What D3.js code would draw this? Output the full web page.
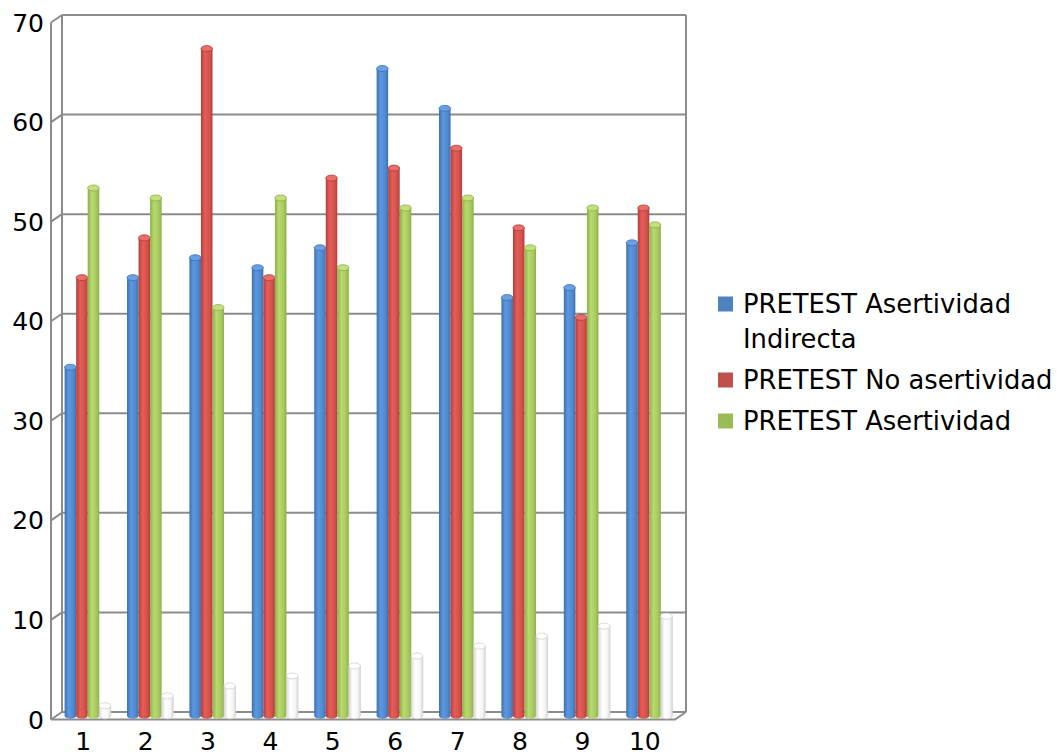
<!DOCTYPE html>
<html>
<head>
<meta charset="utf-8">
<script src="https://cdn.jsdelivr.net/npm/d3@7"></script>
<style>
  body { margin: 0; background: #fff; }
  svg text { font-family: "DejaVu Sans", sans-serif; fill: #000; }
</style>
</head>
<body>
<div id="chart"></div>
<script>
// Categories and values
var categorias = ["1", "2", "3", "4", "5", "6", "7", "8", "9", "10"];
var asertividadIndirecta = [35, 44, 46, 45, 47, 65, 61, 42, 43, 47.5];
var noAsertividad = [44, 48, 67, 44, 54, 55, 57, 49, 40, 51];
var asertividad = [53, 52, 41, 52, 45, 51, 52, 47, 51, 49.3];
var serieBlanca = [1, 2, 3, 4, 5, 6, 7, 8, 9, 10];
var nombresSeries = ["PRETEST Asertividad Indirecta", "PRETEST No asertividad", "PRETEST Asertividad", ""];
var ticksY = [0, 10, 20, 30, 40, 50, 60, 70];

function init() {
    var w = 1057, h = 756;

    // back wall and depth offset of the 3D box
    var backLeft = 62, backRight = 686, backTop = 15, backBottom = 712;
    var dx = -11, dy = 7.5;

    var svg = d3.select("#chart").append("svg")
        .attr("width", w)
        .attr("height", h);

    var y = d3.scaleLinear().domain([0, 70]).range([backBottom, backTop]);

    // bars stand in the middle of the depth
    var x = d3.scaleBand()
        .domain(categorias)
        .range([backLeft + dx / 2, backRight + dx / 2])
        .paddingInner(0.26)
        .paddingOuter(0.13);

    var series = [asertividadIndirecta, noAsertividad, asertividad, serieBlanca];
    var xs = d3.scaleBand().domain(d3.range(4)).range([0, x.bandwidth()]);

    var colores = [
        { dark: "#3e70b0", mid: "#5c98e0", light: "#5089d0", top: "#6aa0e2", legend: "#4f81bd" },
        { dark: "#b23e3b", mid: "#e55e59", light: "#d5514c", top: "#e76e69", legend: "#c0504d" },
        { dark: "#8dae49", mid: "#b9da70", light: "#a7ca5e", top: "#c3e07f", legend: "#9bbb59" },
        { dark: "#dadada", mid: "#ffffff", light: "#f6f6f6", top: "#ffffff", legend: "#ffffff" }
    ];

    var defs = svg.append("defs");
    colores.forEach(function (c, i) {
        var g = defs.append("linearGradient")
            .attr("id", "grad" + i)
            .attr("x1", "0%").attr("x2", "100%")
            .attr("y1", "0%").attr("y2", "0%");
        g.append("stop").attr("offset", "0%").attr("stop-color", c.dark);
        g.append("stop").attr("offset", "35%").attr("stop-color", c.mid);
        g.append("stop").attr("offset", "75%").attr("stop-color", c.light);
        g.append("stop").attr("offset", "100%").attr("stop-color", c.dark);
    });

    var gris = "#8c8c8c";
    var ejes = svg.append("g")
        .attr("stroke", gris)
        .attr("stroke-width", 2)
        .attr("fill", "none");

    // gridlines on the back wall + slanted ticks on the left wall
    ticksY.forEach(function (t) {
        ejes.append("line")
            .attr("x1", backLeft).attr("x2", backRight)
            .attr("y1", y(t)).attr("y2", y(t));
        ejes.append("line")
            .attr("x1", backLeft + dx).attr("y1", y(t) + dy)
            .attr("x2", backLeft).attr("y2", y(t));
    });

    // walls
    ejes.append("line").attr("x1", backLeft).attr("x2", backLeft).attr("y1", backTop).attr("y2", backBottom);
    ejes.append("line").attr("x1", backLeft + dx).attr("x2", backLeft + dx).attr("y1", backTop + dy).attr("y2", backBottom + dy);
    ejes.append("line").attr("x1", backRight).attr("x2", backRight).attr("y1", backTop).attr("y2", backBottom);

    // floor
    ejes.append("path")
        .attr("d", "M" + (backLeft + dx) + "," + (backBottom + dy) +
            "L" + (backRight + dx) + "," + (backBottom + dy) +
            "L" + backRight + "," + backBottom);

    // y tick labels
    svg.append("g").selectAll("text")
        .data(ticksY)
        .enter().append("text")
        .attr("x", 44)
        .attr("y", function (d) { return y(d) + dy; })
        .attr("dy", "0.36em")
        .attr("text-anchor", "end")
        .style("font-size", "25px")
        .text(function (d) { return d; });

    // x labels
    svg.append("g").selectAll("text")
        .data(categorias)
        .enter().append("text")
        .attr("x", function (d) { return x(d) + x.bandwidth() / 2 + dx / 2 + 1; })
        .attr("y", 750)
        .attr("text-anchor", "middle")
        .style("font-size", "25px")
        .text(function (d) { return d; });

    // cylinders
    var bw = xs.bandwidth();
    var ry = 3;
    var base = y(0) + dy / 2;
    series.forEach(function (vals, s) {
        var g = svg.append("g");
        var grupos = g.selectAll("g")
            .data(vals)
            .enter().append("g")
            .attr("transform", function (d, i) {
                return "translate(" + (x(categorias[i]) + xs(s)) + ",0)";
            });

        grupos.append("path")
            .attr("d", function (d) {
                var top = y(d) + dy / 2;
                return "M0," + top + "L0," + base +
                    "A" + (bw / 2) + "," + ry + " 0 0 0 " + bw + "," + base +
                    "L" + bw + "," + top + "Z";
            })
            .attr("fill", "url(#grad" + s + ")")
            .attr("stroke", s === 3 ? "#d0d0d0" : "none")
            .attr("stroke-width", 0.8);

        grupos.append("ellipse")
            .attr("cx", bw / 2)
            .attr("cy", function (d) { return y(d) + dy / 2; })
            .attr("rx", bw / 2)
            .attr("ry", ry)
            .attr("fill", colores[s].top)
            .attr("stroke", s === 3 ? "#d0d0d0" : colores[s].dark)
            .attr("stroke-width", 0.8);
    });

    // legend (first three series only)
    var leyenda = svg.append("g");
    var filas = [
        { s: 0, y: 304, lines: ["PRETEST Asertividad", "Indirecta"] },
        { s: 1, y: 380, lines: ["PRETEST No asertividad"] },
        { s: 2, y: 421, lines: ["PRETEST Asertividad"] }
    ];
    filas.forEach(function (f) {
        leyenda.append("rect")
            .attr("x", 718).attr("y", f.y - 7.5)
            .attr("width", 15).attr("height", 15)
            .attr("fill", colores[f.s].legend);
        f.lines.forEach(function (t, k) {
            leyenda.append("text")
                .attr("x", 743)
                .attr("y", f.y + k * 35)
                .attr("dy", "0.36em")
                .style("font-size", "25.8px")
                .text(t);
        });
    });
}

window.onload = init;
</script>
</body>
</html>
